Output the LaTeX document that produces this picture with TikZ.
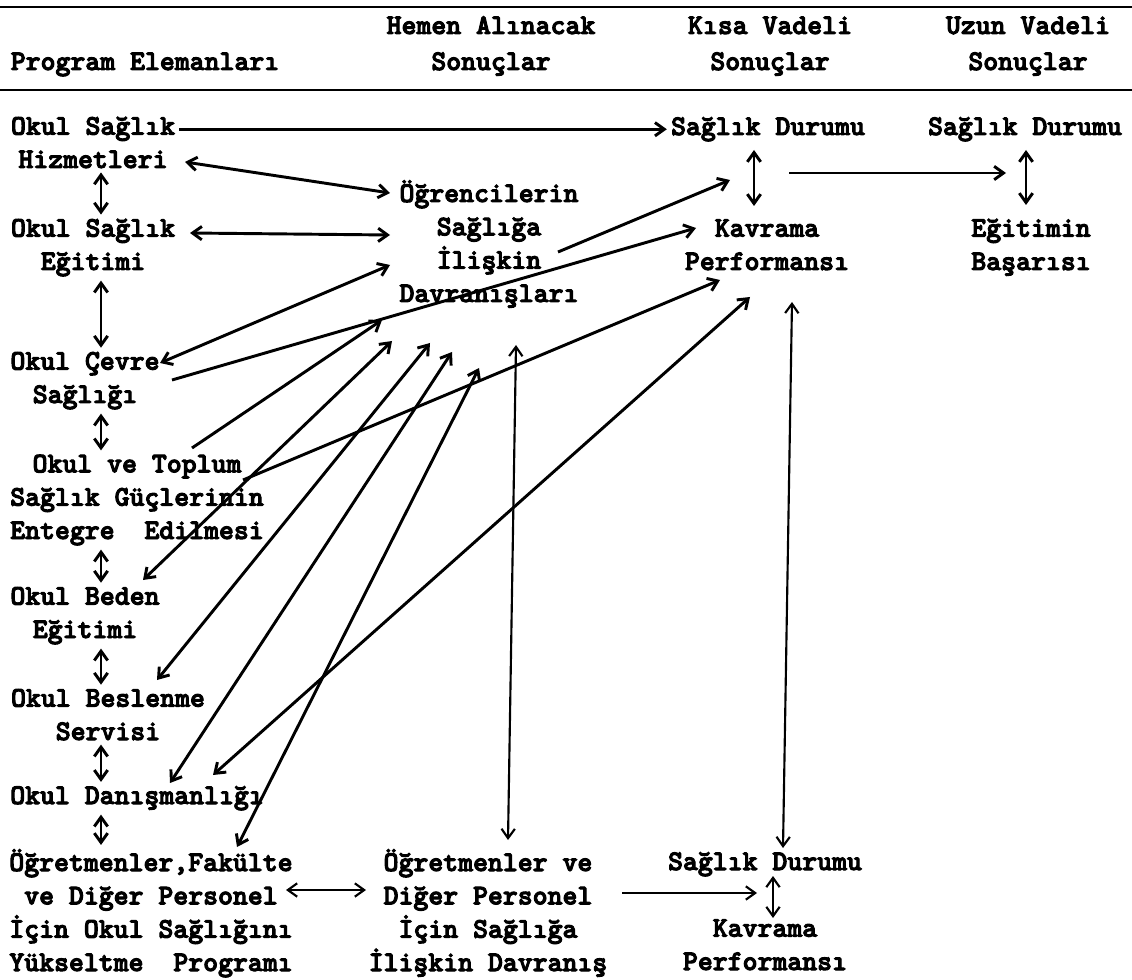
\documentclass[tikz,border=0pt]{standalone}
\usepackage{fontspec}
\usepackage{tikz}
\usetikzlibrary{arrows.meta, calc}
\newfontfamily\typewriter{lmmonolt10-bold.otf}[FakeBold=3.5]

\begin{document}
\begin{tikzpicture}[
    x=0.75pt, y=-0.75pt,
    txt/.style={font=\typewriter\fontsize{21.3pt}{25pt}\selectfont, align=center, anchor=base, inner sep=3pt},
    head/.style={txt, font=\typewriter\fontsize{21.3pt}{27pt}\selectfont},
    arrow/.style={-{Straight Barb[length=7pt, width=10pt]}, line width=2.2pt},
    dbl/.style={{Straight Barb[length=7pt, width=10pt]}-{Straight Barb[length=7pt, width=10pt]}, line width=2.2pt},
    light/.style={line width=1.6pt},
    rule/.style={line width=2pt},
]
\useasboundingbox (0, 0) rectangle (1132, 980);

% Column heads
\node[head] (prog) at (145, 70) {Program Elemanları};
\node[head] (hemen) at (491, 70) {Hemen Alınacak\\Sonuçlar};
\node[head] (kisa) at (770, 70) {Kısa Vadeli\\Sonuçlar};
\node[head] (uzun) at (1028, 70) {Uzun Vadeli\\Sonuçlar};
\draw[rule] (0, 7) -- (1132, 7);
\draw[rule] (0, 90) -- (1132, 90);

% Program elements
\node[txt] (hizmet) at (93, 168) {Okul Sağlık\\Hizmetleri};
\node[txt] (sagegt) at (93, 270) {Okul Sağlık\\Eğitimi};
\node[txt] (cevre) at (85, 403) {Okul Çevre\\Sağlığı};
\node[txt] (entegre) at (137, 539) {Okul ve Toplum\\Sağlık Güçlerinin\\Entegre~~Edilmesi};
\node[txt] (beden) at (85, 638) {Okul Beden\\Eğitimi};
\node[txt] (beslenme) at (108, 740) {Okul Beslenme\\Servisi};
\node[txt] (danis) at (137, 804) {Okul Danışmanlığı};
\node[txt] (ogrfak) at (151, 971) {Öğretmenler,Fakülte\\ve Diğer Personel\\İçin Okul Sağlığını\\Yükseltme~~Programı};
\coordinate (lx) at (101, 0);

% Immediate results
\node[txt] (davr) at (489, 302) {Öğrencilerin\\Sağlığa\\İlişkin\\Davranışları};
\node[txt] (ogrve) at (488, 971) {Öğretmenler ve\\Diğer Personel\\İçin Sağlığa\\İlişkin Davranış};

% Short and long term results
\node[txt] (sd1) at (768, 135) {Sağlık Durumu};
\node[txt] (kav1) at (767, 270) {Kavrama\\Performansı};
\node[txt] (sd2) at (1025, 135) {Sağlık Durumu};
\node[txt] (egbas) at (1031, 270) {Eğitimin\\Başarısı};
\node[txt] (sd3) at (765, 870) {Sağlık Durumu};
\node[txt] (kav3) at (765, 970) {Kavrama\\Performansı};

% Left column links
\draw[dbl] (hizmet.south -| lx) -- (sagegt.north -| lx);
\draw[dbl] (sagegt.south -| lx) -- (cevre.north -| lx);
\draw[dbl] (cevre.south -| lx) -- (entegre.north -| lx);
\draw[dbl] (entegre.south -| lx) -- (beden.north -| lx);
\draw[dbl] (beden.south -| lx) -- (beslenme.north -| lx);
\draw[dbl] (beslenme.south -| lx) -- (danis.north -| lx);
\draw[dbl] (danis.south -| lx) -- (ogrfak.north -| lx);

% Elements to results
\draw[arrow] (hizmet.east |- sd1.west) -- (sd1.west);
\draw[dbl] ([shift={(92,-6)}]hizmet.base) -- ([shift={(-99,-109)}]davr.base);
\draw[dbl] ([shift={(97,-37)}]sagegt.base) -- ([shift={(-99,-67)}]davr.base);
\draw[dbl] ([shift={(75,-40)}]cevre.base) -- ([shift={(-99,-37)}]davr.base);
\draw[arrow] ([shift={(87,-23)}]cevre.base) -- ([shift={(-71,-42)}]kav1.base);
\draw[arrow] ([shift={(69,-50)}]davr.base) -- ([shift={(-38,45)}]sd1.base);
\draw[arrow] ([shift={(55,-91)}]entegre.base) -- ([shift={(-107,18)}]davr.base);
\draw[arrow] ([shift={(106,-59)}]entegre.base) -- ([shift={(-47,10)}]kav1.base);
\draw[dbl] ([shift={(58,-58)}]beden.base) -- ([shift={(-97,39)}]davr.base);
\draw[dbl] ([shift={(49,-60)}]beslenme.base) -- ([shift={(-59,41)}]davr.base);
\draw[dbl] ([shift={(33,-21)}]danis.base) -- ([shift={(-37,50)}]davr.base);
\draw[dbl] ([shift={(86,-124)}]ogrfak.base) -- ([shift={(-10,66)}]davr.base);
\draw[dbl] ([shift={(76,-29)}]danis.base) -- ([shift={(-17,27)}]kav1.base);

% Long verticals
\draw[dbl, light] ([shift={(27,43)}]davr.base) -- ([shift={(20,-131)}]ogrve.base);
\draw[dbl, light] ([shift={(25,32)}]kav1.base) -- ([shift={(18,-22)}]sd3.base);

% Result links
\draw[dbl] ([shift={(-14,15)}]sd1.base) -- ([shift={(-13,-64)}]kav1.base);
\draw[arrow] ([shift={(21,38)}]sd1.base) -- ([shift={(-19,38)}]sd2.base);
\draw[dbl] ([shift={(1,15)}]sd2.base) -- ([shift={(-5,-65)}]egbas.base);

% Bottom row
\draw[dbl, light] ([shift={(135,-81)}]ogrfak.base) -- ([shift={(-122,-81)}]ogrve.base);
\draw[arrow, light] ([shift={(134,-78)}]ogrve.base) -- ([shift={(-8,23)}]sd3.base);
\draw[dbl, light] ([shift={(8,6)}]sd3.base) -- ([shift={(8,-52)}]kav3.base);
\end{tikzpicture}
\end{document}
